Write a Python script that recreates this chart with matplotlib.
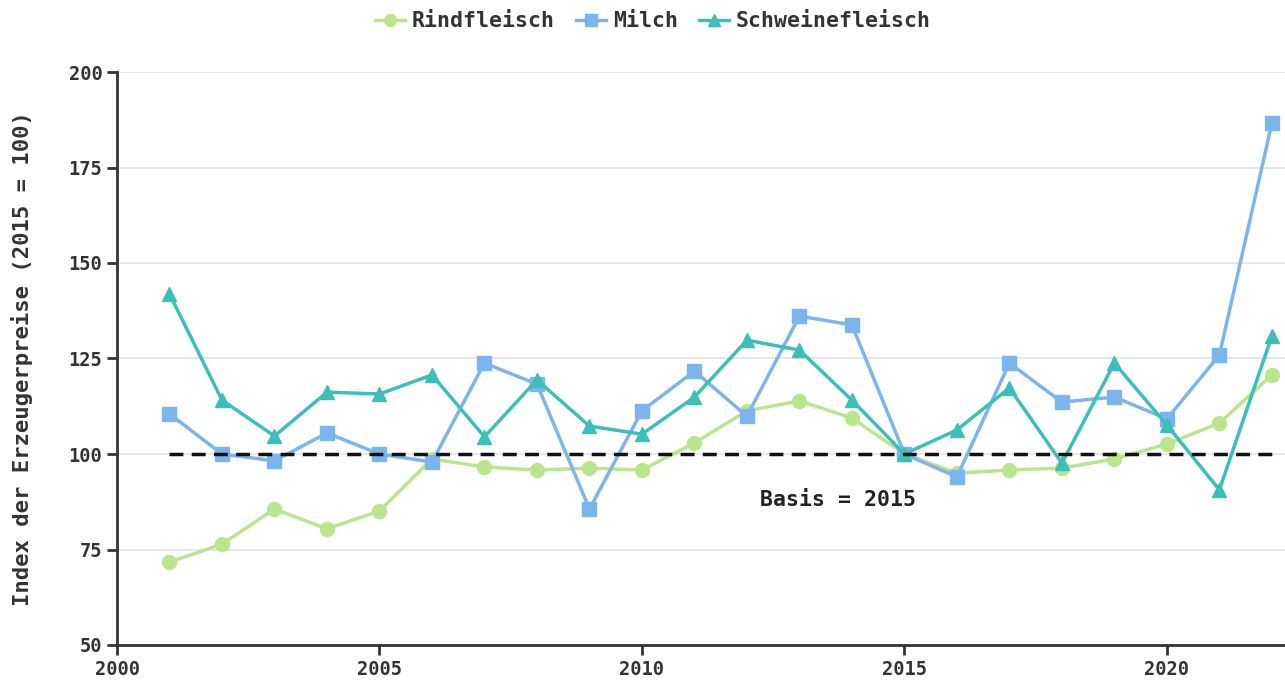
import matplotlib.pyplot as plt

# Index der Erzeugerpreise (2015 = 100)
years = list(range(2001, 2023))
rindfleisch = [71.7, 76.4, 85.6, 80.4, 85.1, 98.7, 96.6, 95.8, 96.3, 95.8, 102.9,
               111.3, 113.9, 109.4, 100.0, 95.0, 95.8, 96.3, 98.7, 102.6, 108.1, 120.7]
milch = [110.5, 100.0, 98.2, 105.5, 100.0, 97.9, 123.8, 118.3, 85.6, 111.3, 121.7,
         109.9, 136.1, 133.8, 100.0, 94.0, 123.8, 113.6, 114.9, 109.2, 125.9, 186.6]
schwein = [141.9, 114.1, 104.7, 116.2, 115.7, 120.7, 104.5, 119.4, 107.3, 105.2, 114.9,
           129.8, 127.2, 114.1, 100.0, 106.3, 117.3, 97.6, 123.8, 107.6, 90.6, 130.9]
x_ticks = [2000, 2005, 2010, 2015, 2020]
y_ticks = [50, 75, 100, 125, 150, 175, 200]

plt.rcParams['font.family'] = 'DejaVu Sans Mono'
plt.rcParams['font.weight'] = 'bold'

fig = plt.figure(figsize=(12.85, 6.84), dpi=100)
ax = fig.add_axes([117 / 1285, 39 / 684, 1168 / 1285, 573 / 684])

ax.plot(years, rindfleisch, color='#b9e68c', lw=2.5, marker='o', ms=10, label='Rindfleisch', zorder=3)
ax.plot(years, milch, color='#7cb5ec', lw=2.5, marker='s', ms=10, label='Milch', zorder=4)
ax.plot(years, schwein, color='#3cbfb8', lw=2.5, marker='^', ms=10, label='Schweinefleisch', zorder=5)

ax.plot([years[0], years[-1]], [100, 100], color='#111111', lw=2.5, ls=(0, (4, 2.4)), zorder=6)
ax.text(2013.73, 88, 'Basis = 2015', ha='center', va='center', fontsize=15.5, fontweight='bold', color='#222222')

ax.set_xlim(2000, 2022.25)
ax.set_ylim(50, 200)
ax.set_xticks(x_ticks)
ax.set_yticks(y_ticks)
ax.grid(axis='y', color='#e3e3e3', lw=1.2)
ax.set_axisbelow(True)
for s in ['top', 'right']:
    ax.spines[s].set_visible(False)
for s in ['left', 'bottom']:
    ax.spines[s].set_color('#333333')
    ax.spines[s].set_linewidth(2)
ax.tick_params(length=7, width=2, color='#333333', labelsize=13.5, labelcolor='#333333')
ax.set_ylabel('Index der Erzeugerpreise (2015 = 100)', fontsize=16, fontweight='bold', color='#333333', labelpad=26)

ax.legend(loc='upper center', bbox_to_anchor=(0.5 - 48 / 1168, 1.14), ncol=3, frameon=False,
          fontsize=15.5, handlelength=1.4, handletextpad=0.3, columnspacing=1.0, labelcolor='#333333',
          markerscale=0.85)

fig.savefig('out.png', dpi=100)
